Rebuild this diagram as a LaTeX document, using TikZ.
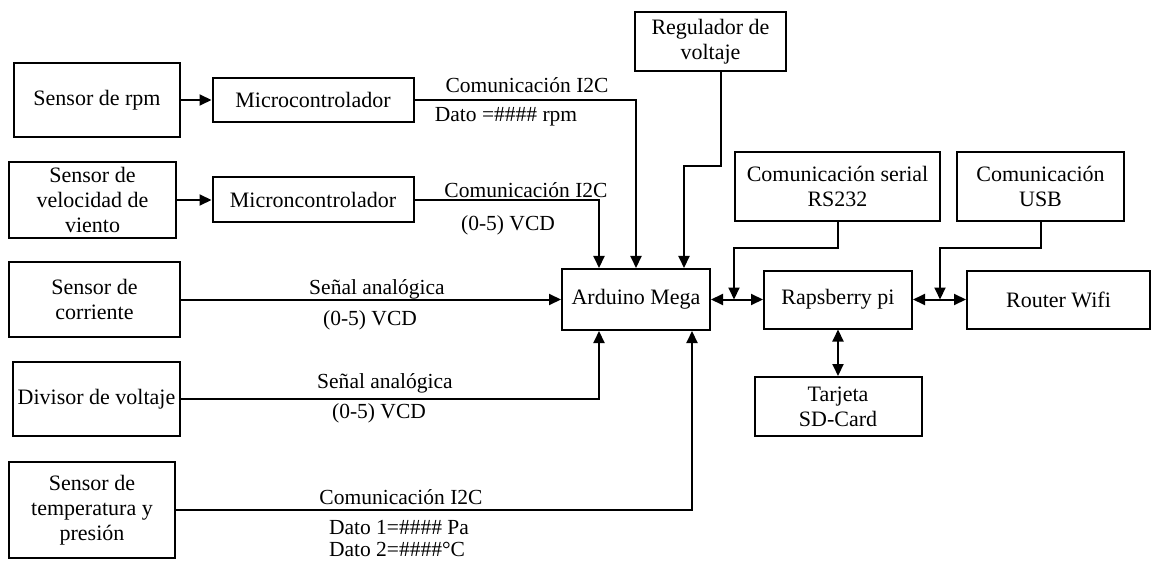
\documentclass[tikz,border=0pt]{standalone}
\usepackage{fontspec}
\setmainfont{Liberation Serif}
\usetikzlibrary{arrows.meta}
\begin{document}
\begin{tikzpicture}[x=1pt,y=-1pt,
  box/.style={draw,line width=2pt,inner sep=0pt,align=center,font=\fontsize{22}{25}\selectfont},
  lbl/.style={inner sep=0pt,font=\fontsize{21.5}{24}\selectfont},
  conn/.style={line width=2pt},
  arr/.style={conn,-{Triangle[length=12pt,width=11pt]}},
  darr/.style={conn,{Triangle[length=12pt,width=11pt]}-{Triangle[length=12pt,width=11pt]}}]
\useasboundingbox (0,0) rectangle (1153,561);
% boxes
\node[box,minimum width=166pt,minimum height=74pt] (rpm) at (97,100) {Sensor de rpm};
\node[box,minimum width=201pt,minimum height=44pt] (mc1) at (313,100) {Microcontrolador};
\node[box,minimum width=167pt,minimum height=76pt] (vel) at (92.5,200) {Sensor de\\velocidad de\\viento};
\node[box,minimum width=201pt,minimum height=45pt] (mc2) at (313,200) {Microncontrolador};
\node[box,minimum width=171pt,minimum height=75pt] (cor) at (94.5,299.5) {Sensor de\\corriente};
\node[box,minimum width=167pt,minimum height=74pt] (div) at (96.5,399) {Divisor de voltaje};
\node[box,minimum width=166pt,minimum height=96pt] (tmp) at (92,510) {Sensor de\\temperatura y\\presión};
\node[box,minimum width=148pt,minimum height=61pt] (ard) at (636,299.5) {Arduino Mega};
\node[box,minimum width=151pt,minimum height=59pt] (reg) at (710.5,41.5) {Regulador de\\voltaje};
\node[box,minimum width=205pt,minimum height=69pt] (rs) at (837.5,186.5) {Comunicación serial\\RS232};
\node[box,minimum width=167pt,minimum height=69pt] (usb) at (1040.5,186.5) {Comunicación\\USB};
\node[box,minimum width=148pt,minimum height=58pt] (rasp) at (838,299.5) {Rapsberry pi};
\node[box,minimum width=183pt,minimum height=58pt] (rtr) at (1058.5,299.5) {Router Wifi};
\node[box,minimum width=167pt,minimum height=59pt] (sd) at (838,406.5) {Tarjeta\\SD-Card};
% helper coordinates
\coordinate (x599) at (599,0);
\coordinate (x692) at (692,0);
\coordinate (x721) at (721,0);
\coordinate (x684) at (684,0);
\coordinate (y166) at (0,166);
\coordinate (y248) at (0,248);
\coordinate (x734) at (734,0);
\coordinate (x940) at (940,0);
% connectors
\draw[arr] (rpm.east) -- (mc1.west);
\draw[arr] (vel.east) -- (vel.east -| mc2.west);
\draw[arr] (mc1.east) -| (ard.north);
\draw[arr] (mc2.east) -| (ard.north -| x599);
\draw[arr] (reg.south -| x721) -- (x721 |- y166) -| (ard.north -| x684);
\draw[arr] (cor.east) -- (ard.west);
\draw[arr] (div.east) -| (ard.south -| x599);
\draw[arr] (tmp.east) -| (ard.south -| x692);
\draw[darr] (ard.east) -- (rasp.west);
\draw[darr] (rasp.east) -- (rtr.west);
\draw[darr] (rasp.south) -- (sd.north);
\draw[arr] (rs.south) -- (rs.south |- y248) -| (ard.east -| x734);
\draw[arr] (usb.south) -- (usb.south |- y248) -| (rasp.east -| x940);
% labels
\node[lbl] (l1a) at (527,85) {Comunicación I2C};
\node[lbl] (l1b) at (506,117) {Dato =\#\#\#\# rpm};
\node[lbl] (l2a) at (526,190) {Comunicación I2C};
\node[lbl] (l2b) at (508,225) {(0-5) VCD};
\node[lbl] (l3a) at (377,289) {Señal analógica};
\node[lbl] (l3b) at (370,320) {(0-5) VCD};
\node[lbl] (l4a) at (385,383) {Señal analógica};
\node[lbl] (l4b) at (379,413) {(0-5) VCD};
\node[lbl] (l5a) at (401,497) {Comunicación I2C};
\node[lbl] (l5b) at (399,528) {Dato 1=\#\#\#\# Pa};
\node[lbl] (l5c) at (397,549) {Dato 2=\#\#\#\#°C};
\end{tikzpicture}
\end{document}
